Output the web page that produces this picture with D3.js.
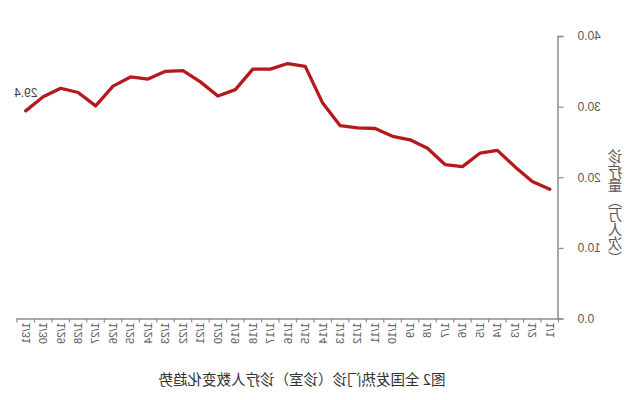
<!DOCTYPE html>
<html>
<head>
<meta charset="utf-8">
<script src="https://cdn.jsdelivr.net/npm/d3@7"></script>
<style>
  html, body { margin: 0; padding: 0; background: #fff; }
  svg { display: block; font-family: "Noto Sans CJK SC", "Noto Sans", sans-serif; }
</style>
</head>
<body>
<svg id="chart" width="640" height="400"></svg>
<script>
const dates = ["1/1","1/2","1/3","1/4","1/5","1/6","1/7","1/8","1/9","1/10",
  "1/11","1/12","1/13","1/14","1/15","1/16","1/17","1/18","1/19","1/20",
  "1/21","1/22","1/23","1/24","1/25","1/26","1/27","1/28","1/29","1/30","1/31"];
const visits = [18.3,19.4,21.5,23.8,23.4,21.5,21.8,24.1,25.3,25.8,
  26.9,27.0,27.3,30.5,35.7,36.1,35.3,35.3,32.4,31.5,
  33.5,35.1,35.0,33.9,34.2,32.9,30.1,32.0,32.6,31.4,29.4];
const yTicks = [0, 10, 20, 30, 40];
const yTitle = "诊疗量（万人次）";
const caption = "图2 全国发热门诊（诊室）诊疗人数变化趋势";
const lastLabel = "29.4";

const W = 640, H = 400;
const mLeft = 81.5, mRight = 623, mTop = 36, mBottom = 318.5;

const svg = d3.select("#chart");
// The reference picture is a mirror image; draw normally, then mirror the whole drawing.
const g = svg.append("g").attr("transform", `translate(${W},0) scale(-1,1)`);

const x = d3.scaleBand().domain(dates).range([mLeft, mRight]).padding(0);
const y = d3.scaleLinear().domain([0, 40]).range([mBottom, mTop]);

const axisColor = "#8c8c8c";
const labelColor = "#595959";

// Y axis
const yAxis = g.append("g").attr("transform", `translate(${mLeft},0)`)
  .call(d3.axisLeft(y).tickValues(yTicks).tickSize(5).tickPadding(14).tickFormat(d3.format(".1f")));
yAxis.select(".domain").attr("stroke", axisColor).attr("stroke-width", 1.5);
yAxis.selectAll(".tick line").attr("stroke", axisColor).attr("stroke-width", 1.2);
yAxis.selectAll(".tick text").attr("fill", labelColor).style("font-size", "12px")
  .style("font-family", "Liberation Sans, Arial, sans-serif");

// X axis (labels at band centers, ticks at band boundaries)
const xAxis = g.append("g").attr("transform", `translate(0,${mBottom})`)
  .call(d3.axisBottom(x).tickSize(0).tickSizeOuter(0));
xAxis.select(".domain").attr("stroke", axisColor).attr("stroke-width", 1.5);
xAxis.selectAll(".tick text")
  .attr("transform", "rotate(90)")
  .attr("x", 4).attr("y", 0).attr("dy", "0.35em")
  .style("text-anchor", "start")
  .attr("fill", labelColor)
  .style("font-size", "11px")
  .style("font-family", "Liberation Sans, Arial, sans-serif");
const bounds = dates.map(d => x(d)).concat([x(dates[dates.length - 1]) + x.bandwidth()]);
xAxis.selectAll("line.bound").data(bounds).enter().append("line")
  .attr("class", "bound")
  .attr("x1", d => d).attr("x2", d => d)
  .attr("y1", 0).attr("y2", 4)
  .attr("stroke", axisColor).attr("stroke-width", 1.2);

// Line
const line = d3.line()
  .x((d, i) => x(dates[i]) + x.bandwidth() / 2)
  .y(d => y(d));
g.append("path").datum(visits)
  .attr("d", line)
  .attr("fill", "none")
  .attr("stroke", "#b51a1a")
  .attr("stroke-width", 3.3)
  .attr("stroke-linejoin", "round")
  .attr("stroke-linecap", "round");

// Last value label
const li = visits.length - 1;
g.append("text")
  .attr("x", x(dates[li]) + x.bandwidth() / 2)
  .attr("y", y(visits[li]) - 14)
  .attr("text-anchor", "middle")
  .attr("fill", "#404040")
  .style("font-size", "12px")
  .style("font-family", "Liberation Sans, Arial, sans-serif")
  .text(lastLabel);

// Y title (vertical)
g.append("text")
  .attr("x", 25).attr("y", (mTop + mBottom) / 2 + 30)
  .attr("writing-mode", "tb")
  .attr("text-anchor", "middle")
  .attr("fill", labelColor)
  .style("font-size", "14.5px")
  .text(yTitle);

// Caption
g.append("text")
  .attr("x", 338).attr("y", 385)
  .attr("text-anchor", "middle")
  .attr("fill", "#333")
  .style("font-size", "14.5px")
  .text(caption);
</script>
</body>
</html>
